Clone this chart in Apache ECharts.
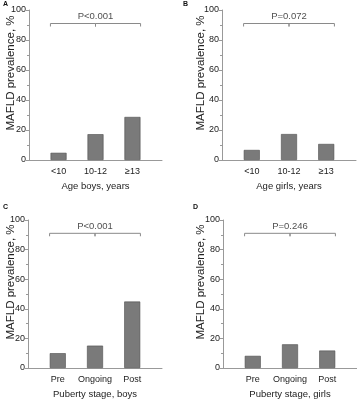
<!DOCTYPE html>
<html>
<head>
<meta charset="utf-8">
<script src="https://cdn.jsdelivr.net/npm/echarts@6/dist/echarts.min.js"></script>
<style>html,body{margin:0;padding:0;background:#fff}#c{width:357px;height:400px}</style>
</head>
<body>
<div id="c"></div>
<script>
const categoriesAge = ['<10', '10-12', '≥13'];
const categoriesPuberty = ['Pre', 'Ongoing', 'Post'];
const boysAge = [4.8, 17.2, 28.7];
const girlsAge = [6.7, 17.3, 10.7];
const boysPuberty = [10.0, 15.1, 44.9];
const girlsPuberty = [8.2, 16.0, 11.8];
const pValues = ['P<0.001', 'P=0.072', 'P<0.001', 'P=0.246'];
const xTitles = ['Age boys, years', 'Age girls, years', 'Puberty stage, boys', 'Puberty stage, girls'];
const panelLetters = ['A', 'B', 'C', 'D'];
const yTitle = 'MAFLD prevalence, %';
const bracketLevel = 91;
const bracketDrop = 2;

const FONT = 'Liberation Sans, Arial, Helvetica, sans-serif';
const panels = [
  {cats: categoriesAge, vals: boysAge, grid: {left: 29, top: 10, width: 133, height: 150}, letter: [3, 1], ytitle: [11, 73]},
  {cats: categoriesAge, vals: girlsAge, grid: {left: 222, top: 10, width: 134, height: 150}, letter: [183, 1], ytitle: [201, 73]},
  {cats: categoriesPuberty, vals: boysPuberty, grid: {left: 28, top: 220, width: 134, height: 150}, letter: [3, 204], ytitle: [11, 282]},
  {cats: categoriesPuberty, vals: girlsPuberty, grid: {left: 223, top: 220, width: 134, height: 150}, letter: [193, 204], ytitle: [201, 282]}
];

const chart = echarts.init(document.getElementById('c'), null, {renderer: 'canvas'});
const grids = [], xAxes = [], yAxes = [], series = [], graphics = [];
const bw = 0.22;
panels.forEach((p, i) => {
  grids.push(Object.assign({containLabel: false}, p.grid));
  xAxes.push({
    type: 'value', gridIndex: i, min: -0.8, max: 2.8,
    axisLine: {show: true, onZero: false, lineStyle: {color: '#999', width: 1}},
    axisTick: {show: false},
    splitLine: {show: false},
    axisLabel: {
      customValues: [0, 1, 2],
      formatter: v => p.cats[Math.round(v)],
      color: '#222', fontSize: 9, fontFamily: FONT, margin: 7
    },
    name: xTitles[i], nameLocation: 'middle', nameGap: 21,
    nameTextStyle: {color: '#222', fontSize: 9.5, fontFamily: FONT}
  });
  yAxes.push({
    type: 'value', gridIndex: i, min: 0, max: 100, interval: 20,
    axisLine: {show: true, onZero: false, lineStyle: {color: '#999', width: 1}},
    axisTick: {show: true, length: 3, lineStyle: {color: '#999'}},
    minorTick: {show: true, splitNumber: 2, length: 2, lineStyle: {color: '#999'}},
    splitLine: {show: false},
    axisLabel: {color: '#222', fontSize: 9, fontFamily: FONT, margin: 3}
  });
  series.push({
    type: 'bar', xAxisIndex: i, yAxisIndex: i, barWidth: 16,
    data: p.vals.map((v, k) => [k, v]),
    itemStyle: {color: '#7a7a7a', borderColor: '#4d4d4d', borderWidth: 0.6},
    silent: true
  });
  const n = p.vals.length - 1;
  series.push({
    type: 'line', xAxisIndex: i, yAxisIndex: i, symbol: 'none', silent: true,
    lineStyle: {color: '#8a8a8a', width: 1},
    data: [[-bw, bracketLevel - bracketDrop], [-bw, bracketLevel], [n / 2, bracketLevel], [n / 2, bracketLevel - bracketDrop],
           [n / 2, bracketLevel], [n + bw, bracketLevel], [n + bw, bracketLevel - bracketDrop]]
  });
  series.push({
    type: 'scatter', xAxisIndex: i, yAxisIndex: i, symbolSize: 0, silent: true,
    data: [[n / 2, bracketLevel]],
    label: {show: true, position: 'top', distance: 2, formatter: pValues[i], color: '#222', fontSize: 9.5, fontFamily: FONT}
  });
  graphics.push({
    type: 'text', left: p.letter[0], top: p.letter[1],
    style: {text: panelLetters[i], font: 'bold 7px ' + FONT, fill: '#111'}
  });
  graphics.push({
    type: 'text', x: p.ytitle[0], y: p.ytitle[1], rotation: Math.PI / 2,
    style: {text: yTitle, font: '11.5px ' + FONT, fill: '#222', align: 'center', verticalAlign: 'middle'}
  });
});

chart.setOption({
  animation: false,
  grid: grids, xAxis: xAxes, yAxis: yAxes, series: series, graphic: graphics
});
</script>
</body>
</html>
